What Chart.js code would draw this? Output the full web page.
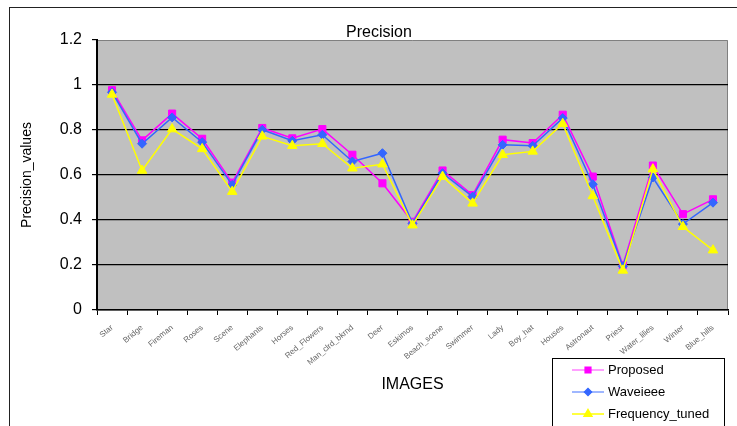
<!DOCTYPE html>
<html>
<head>
<meta charset="utf-8">
<title>Precision</title>
<script src="https://cdn.jsdelivr.net/npm/chart.js@4"></script>
<style>
  html, body { margin: 0; padding: 0; background: #fff; }
  #wrap { width: 737px; height: 426px; position: relative; }
</style>
</head>
<body>
<div id="wrap"><canvas id="precisionChart"></canvas></div>
<script>
// Data
const images = ['Star', 'Bridge', 'Fireman', 'Roses', 'Scene', 'Elephants', 'Horses', 'Red_Flowers',
  'Man_clrd_bkrnd', 'Deer', 'Eskimos', 'Beach_scene', 'Swimmer', 'Lady', 'Boy_hat', 'Houses',
  'Astronaut', 'Priest', 'Water_lilies', 'Winter', 'Blue_hills'];

const proposed = [0.977, 0.754, 0.873, 0.761, 0.566, 0.809, 0.763, 0.804, 0.690, 0.563, 0.392,
  0.620, 0.511, 0.757, 0.742, 0.868, 0.593, 0.199, 0.642, 0.426, 0.492];

const waveieee = [0.968, 0.739, 0.856, 0.746, 0.556, 0.801, 0.752, 0.779, 0.660, 0.697, 0.385,
  0.608, 0.504, 0.734, 0.730, 0.853, 0.559, 0.194, 0.589, 0.382, 0.477];

const frequencyTuned = [0.958, 0.620, 0.804, 0.716, 0.526, 0.772, 0.730, 0.739, 0.630, 0.648, 0.377,
  0.593, 0.474, 0.690, 0.705, 0.828, 0.507, 0.176, 0.626, 0.370, 0.266];

const yTicks = [0, 0.2, 0.4, 0.6, 0.8, 1, 1.2];

const FONT = '"Liberation Sans", Arial, sans-serif';

// Frame, gray plot background, title and legend box
const decorations = {
    id: 'decorations',
    beforeDraw(chart) {
        const ctx = chart.ctx;
        const a = chart.chartArea;
        ctx.save();
        ctx.fillStyle = '#fff';
        ctx.fillRect(0, 0, chart.width, chart.height);
        ctx.strokeStyle = '#222';
        ctx.lineWidth = 1;
        ctx.strokeRect(9.5, 7.5, 800, 500);
        ctx.fillStyle = '#C0C0C0';
        ctx.fillRect(a.left, a.top, a.right - a.left, a.bottom - a.top);
        ctx.strokeStyle = '#808080';
        ctx.beginPath();
        ctx.moveTo(a.left, a.top + 0.5);
        ctx.lineTo(a.right - 0.5, a.top + 0.5);
        ctx.lineTo(a.right - 0.5, a.bottom);
        ctx.stroke();
        ctx.restore();
    },
    afterDraw(chart) {
        const ctx = chart.ctx;
        ctx.save();
        // title
        ctx.fillStyle = '#000';
        ctx.font = '16px ' + FONT;
        ctx.textAlign = 'center';
        ctx.textBaseline = 'alphabetic';
        ctx.fillText('Precision', 379, 37);

        // legend
        ctx.fillStyle = '#fff';
        ctx.fillRect(552, 358, 172, 80);
        ctx.strokeStyle = '#000';
        ctx.lineWidth = 1;
        ctx.strokeRect(552.5, 358.5, 172, 80);
        const rows = [370, 392, 414];
        chart.data.datasets.forEach((ds, i) => {
            const y = rows[i];
            ctx.strokeStyle = ds.legendLine;
            ctx.lineWidth = 1.5;
            ctx.beginPath();
            ctx.moveTo(572, y);
            ctx.lineTo(604, y);
            ctx.stroke();
            ctx.fillStyle = ds.pointBackgroundColor;
            ctx.strokeStyle = ds.pointBorderColor;
            Chart.helpers.drawPoint(ctx, {
                pointStyle: ds.pointStyle,
                radius: ds.pointRadius - 1,
                borderWidth: 1
            }, 588, y);
            ctx.fillStyle = '#000';
            ctx.font = '13px ' + FONT;
            ctx.textAlign = 'left';
            ctx.textBaseline = 'middle';
            ctx.fillText(ds.label, 608, y);
        });
        ctx.restore();
    }
};

const ctx = document.getElementById('precisionChart').getContext('2d');

new Chart(ctx, {
    type: 'line',
    data: {
        labels: images,
        datasets: [
            {
                label: 'Proposed',
                data: proposed,
                borderColor: '#FF00FF',
                legendLine: '#FF80FF',
                borderWidth: 1.5,
                pointStyle: 'rect',
                pointRadius: 5,
                pointBackgroundColor: '#FF00FF',
                pointBorderColor: '#FF00FF',
                pointBorderWidth: 1,
                order: 2
            },
            {
                label: 'Waveieee',
                data: waveieee,
                borderColor: '#3366FF',
                legendLine: '#7F9FFF',
                borderWidth: 1.5,
                pointStyle: 'rectRot',
                pointRadius: 4.5,
                pointBackgroundColor: '#3366FF',
                pointBorderColor: '#3366FF',
                pointBorderWidth: 1,
                order: 1
            },
            {
                label: 'Frequency_tuned',
                data: frequencyTuned,
                borderColor: '#FFFF00',
                legendLine: '#FFFF00',
                borderWidth: 1.5,
                pointStyle: 'triangle',
                pointRadius: 5.5,
                pointBackgroundColor: '#FFFF00',
                pointBorderColor: '#FFFF00',
                pointBorderWidth: 1,
                order: 0
            }
        ]
    },
    options: {
        responsive: true,
        maintainAspectRatio: false,
        animation: false,
        layout: {
            padding: { left: 0, top: 40, right: 9, bottom: 0 }
        },
        plugins: {
            legend: { display: false },
            title: { display: false },
            tooltip: { enabled: false }
        },
        scales: {
            x: {
                offset: true,
                afterFit: function(scale) { scale.height = 116; },
                grid: {
                    offset: true,
                    drawOnChartArea: false,
                    drawTicks: true,
                    tickLength: 5,
                    color: '#000'
                },
                border: { color: '#000', width: 1.5 },
                ticks: {
                    autoSkip: false,
                    minRotation: 40,
                    maxRotation: 40,
                    padding: 8,
                    color: '#666',
                    font: { family: FONT, size: 8 }
                },
                title: {
                    display: true,
                    text: 'IMAGES',
                    color: '#000',
                    font: { family: FONT, size: 16 },
                    padding: { top: 0, bottom: 32 }
                }
            },
            y: {
                min: 0,
                max: 1.2,
                afterFit: function(scale) { scale.width = 97; },
                afterBuildTicks: function(scale) {
                    scale.ticks = yTicks.map(v => ({ value: v }));
                },
                grid: {
                    color: function(c) { return c.tick && c.tick.value === 1.2 ? 'rgba(0,0,0,0)' : '#000'; },
                    lineWidth: 1.2,
                    drawTicks: true,
                    tickLength: 5,
                    tickColor: '#000'
                },
                border: { color: '#000', width: 2 },
                ticks: {
                    padding: 10,
                    color: '#000',
                    font: { family: FONT, size: 16 },
                    callback: function(v) { return String(v); }
                },
                title: {
                    display: true,
                    text: 'Precision_values',
                    color: '#000',
                    font: { family: FONT, size: 14 },
                    padding: { top: 19, bottom: 0 }
                }
            }
        }
    },
    plugins: [decorations]
});
</script>
</body>
</html>
